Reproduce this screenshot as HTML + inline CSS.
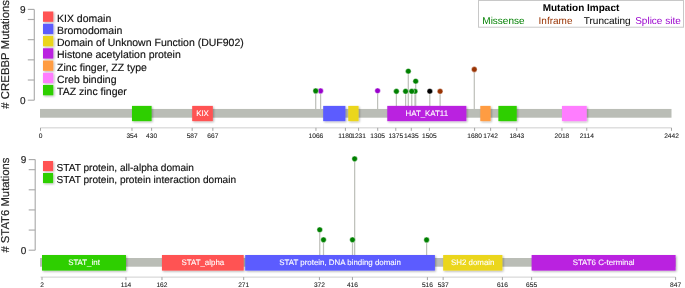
<!DOCTYPE html><html><head><meta charset="utf-8"><style>html,body{margin:0;padding:0;background:#fff;width:685px;height:288px;overflow:hidden}svg{display:block}</style></head><body>
<svg width="685" height="288" viewBox="0 0 685 288" text-rendering="geometricPrecision" font-family='"Liberation Sans", Arial, Helvetica, sans-serif'>
<defs><filter id="sh" x="-20%" y="-20%" width="150%" height="160%"><feGaussianBlur in="SourceAlpha" stdDeviation="0.9"/><feOffset dx="1" dy="1.2" result="b"/><feComponentTransfer><feFuncA type="linear" slope="0.3"/></feComponentTransfer><feMerge><feMergeNode/><feMergeNode in="SourceGraphic"/></feMerge></filter></defs>
<rect width="685" height="288" fill="#fff"/>
<line x1="34.3" y1="9.4" x2="34.3" y2="100.2" stroke="#ababab" stroke-width="1.15"/>
<line x1="27.80" y1="100.20" x2="34.3" y2="100.20" stroke="#ababab" stroke-width="1.15"/>
<line x1="27.80" y1="80.02" x2="34.3" y2="80.02" stroke="#ababab" stroke-width="1.15"/>
<line x1="27.80" y1="59.84" x2="34.3" y2="59.84" stroke="#ababab" stroke-width="1.15"/>
<line x1="27.80" y1="39.67" x2="34.3" y2="39.67" stroke="#ababab" stroke-width="1.15"/>
<line x1="27.80" y1="19.49" x2="34.3" y2="19.49" stroke="#ababab" stroke-width="1.15"/>
<line x1="27.80" y1="9.40" x2="34.3" y2="9.40" stroke="#ababab" stroke-width="1.15"/>
<text x="25.50" y="12.95" font-size="10" text-anchor="end" fill="#222" stroke="#222" stroke-width="0.15">9</text>
<text x="25.50" y="103.75" font-size="10" text-anchor="end" fill="#222" stroke="#222" stroke-width="0.15">0</text>
<text transform="translate(9,54.3) rotate(-90)" font-size="11.4" text-anchor="middle" fill="#222" stroke="#222" stroke-width="0.15"># CREBBP Mutations</text>
<rect x="43" y="11.50" width="10.3" height="10.3" fill="#ff5353" filter="url(#sh)"/>
<text x="57.0" y="21.70" font-size="10.5" fill="#111" stroke="#111" stroke-width="0.15">KIX domain</text>
<rect x="43" y="23.75" width="10.3" height="10.3" fill="#5b5bff" filter="url(#sh)"/>
<text x="57.0" y="33.95" font-size="10.5" fill="#111" stroke="#111" stroke-width="0.15">Bromodomain</text>
<rect x="43" y="36.00" width="10.3" height="10.3" fill="#ebd61d" filter="url(#sh)"/>
<text x="57.0" y="46.20" font-size="10.5" fill="#111" stroke="#111" stroke-width="0.15">Domain of Unknown Function (DUF902)</text>
<rect x="43" y="48.25" width="10.3" height="10.3" fill="#ba21e0" filter="url(#sh)"/>
<text x="57.0" y="58.45" font-size="10.5" fill="#111" stroke="#111" stroke-width="0.15">Histone acetylation protein</text>
<rect x="43" y="60.50" width="10.3" height="10.3" fill="#ff9c42" filter="url(#sh)"/>
<text x="57.0" y="70.70" font-size="10.5" fill="#111" stroke="#111" stroke-width="0.15">Zinc finger, ZZ type</text>
<rect x="43" y="72.75" width="10.3" height="10.3" fill="#ff7dff" filter="url(#sh)"/>
<text x="57.0" y="82.95" font-size="10.5" fill="#111" stroke="#111" stroke-width="0.15">Creb binding</text>
<rect x="43" y="85.00" width="10.3" height="10.3" fill="#2dcf00" filter="url(#sh)"/>
<text x="57.0" y="95.20" font-size="10.5" fill="#111" stroke="#111" stroke-width="0.15">TAZ zinc finger</text>
<line x1="315.70" y1="90.90" x2="315.70" y2="113" stroke="#bfc1bb" stroke-width="1.25"/>
<line x1="320.60" y1="90.90" x2="320.60" y2="113" stroke="#bfc1bb" stroke-width="1.25"/>
<line x1="377.60" y1="90.75" x2="377.60" y2="113" stroke="#bfc1bb" stroke-width="1.25"/>
<line x1="396.40" y1="91.35" x2="396.40" y2="113" stroke="#bfc1bb" stroke-width="1.25"/>
<line x1="405.60" y1="91.30" x2="405.60" y2="113" stroke="#bfc1bb" stroke-width="1.25"/>
<line x1="408.30" y1="71.20" x2="408.30" y2="113" stroke="#bfc1bb" stroke-width="1.25"/>
<line x1="411.75" y1="91.30" x2="411.75" y2="113" stroke="#bfc1bb" stroke-width="1.25"/>
<line x1="415.00" y1="91.30" x2="415.00" y2="113" stroke="#bfc1bb" stroke-width="1.25"/>
<line x1="415.70" y1="81.20" x2="415.70" y2="113" stroke="#bfc1bb" stroke-width="1.25"/>
<line x1="429.80" y1="91.25" x2="429.80" y2="113" stroke="#bfc1bb" stroke-width="1.25"/>
<line x1="440.10" y1="91.30" x2="440.10" y2="113" stroke="#bfc1bb" stroke-width="1.25"/>
<line x1="474.30" y1="69.40" x2="474.30" y2="113" stroke="#bfc1bb" stroke-width="1.25"/>
<rect x="40" y="108.95" width="631.5" height="8.75" fill="#babdb6"/>
<rect x="131.97" y="105.9" width="19.64" height="15.25" fill="#2dcf00" filter="url(#sh)"/>
<rect x="192.18" y="105.9" width="20.67" height="15.25" fill="#ff5353" filter="url(#sh)"/>
<text x="202.51" y="116.05" font-size="7.9" text-anchor="middle" fill="#fff" stroke="#fff" stroke-width="0.1">KIX</text>
<rect x="323.18" y="105.9" width="22.22" height="15.25" fill="#5b5bff" filter="url(#sh)"/>
<rect x="348.25" y="105.9" width="10.34" height="15.25" fill="#ebd61d" filter="url(#sh)"/>
<rect x="387.27" y="105.9" width="79.07" height="15.25" fill="#ba21e0" filter="url(#sh)"/>
<text x="426.80" y="116.05" font-size="7.9" text-anchor="middle" fill="#fff" stroke="#fff" stroke-width="0.1">HAT_KAT11</text>
<rect x="480.29" y="105.9" width="10.34" height="15.25" fill="#ff9c42" filter="url(#sh)"/>
<rect x="498.38" y="105.9" width="18.35" height="15.25" fill="#2dcf00" filter="url(#sh)"/>
<rect x="561.94" y="105.9" width="24.81" height="15.25" fill="#ff7dff" filter="url(#sh)"/>
<circle cx="474.30" cy="69.40" r="2.8" fill="#993404" stroke="#fff" stroke-opacity="0.75" stroke-width="0.6"/>
<circle cx="440.10" cy="91.30" r="2.8" fill="#993404" stroke="#fff" stroke-opacity="0.75" stroke-width="0.6"/>
<circle cx="429.80" cy="91.25" r="2.8" fill="#000000" stroke="#fff" stroke-opacity="0.75" stroke-width="0.6"/>
<circle cx="415.70" cy="81.20" r="2.8" fill="#008000" stroke="#fff" stroke-opacity="0.75" stroke-width="0.6"/>
<circle cx="415.00" cy="91.30" r="2.8" fill="#008000" stroke="#fff" stroke-opacity="0.75" stroke-width="0.6"/>
<circle cx="411.75" cy="91.30" r="2.8" fill="#008000" stroke="#fff" stroke-opacity="0.75" stroke-width="0.6"/>
<circle cx="408.30" cy="71.20" r="2.8" fill="#008000" stroke="#fff" stroke-opacity="0.75" stroke-width="0.6"/>
<circle cx="405.60" cy="91.30" r="2.8" fill="#008000" stroke="#fff" stroke-opacity="0.75" stroke-width="0.6"/>
<circle cx="396.40" cy="91.35" r="2.8" fill="#008000" stroke="#fff" stroke-opacity="0.75" stroke-width="0.6"/>
<circle cx="377.60" cy="90.75" r="2.8" fill="#9900cc" stroke="#fff" stroke-opacity="0.75" stroke-width="0.6"/>
<circle cx="320.60" cy="90.90" r="2.8" fill="#9900cc" stroke="#fff" stroke-opacity="0.75" stroke-width="0.6"/>
<circle cx="315.70" cy="90.90" r="2.8" fill="#008000" stroke="#fff" stroke-opacity="0.75" stroke-width="0.6"/>
<line x1="40.5" y1="127.85" x2="671.5" y2="127.85" stroke="#cfcfcf" stroke-width="1"/>
<line x1="40.50" y1="127.85" x2="40.50" y2="130.85" stroke="#999" stroke-width="0.9"/>
<text x="40.50" y="137.95" font-size="6.6" text-anchor="middle" fill="#222" stroke="#222" stroke-width="0.1">0</text>
<line x1="131.97" y1="127.85" x2="131.97" y2="130.85" stroke="#999" stroke-width="0.9"/>
<text x="131.97" y="137.95" font-size="6.6" text-anchor="middle" fill="#222" stroke="#222" stroke-width="0.1">354</text>
<line x1="151.61" y1="127.85" x2="151.61" y2="130.85" stroke="#999" stroke-width="0.9"/>
<text x="151.61" y="137.95" font-size="6.6" text-anchor="middle" fill="#222" stroke="#222" stroke-width="0.1">430</text>
<line x1="192.18" y1="127.85" x2="192.18" y2="130.85" stroke="#999" stroke-width="0.9"/>
<text x="192.18" y="137.95" font-size="6.6" text-anchor="middle" fill="#222" stroke="#222" stroke-width="0.1">587</text>
<line x1="212.85" y1="127.85" x2="212.85" y2="130.85" stroke="#999" stroke-width="0.9"/>
<text x="212.85" y="137.95" font-size="6.6" text-anchor="middle" fill="#222" stroke="#222" stroke-width="0.1">667</text>
<line x1="315.95" y1="127.85" x2="315.95" y2="130.85" stroke="#999" stroke-width="0.9"/>
<text x="315.95" y="137.95" font-size="6.6" text-anchor="middle" fill="#222" stroke="#222" stroke-width="0.1">1066</text>
<line x1="345.41" y1="127.85" x2="345.41" y2="130.85" stroke="#999" stroke-width="0.9"/>
<text x="345.41" y="137.95" font-size="6.6" text-anchor="middle" fill="#222" stroke="#222" stroke-width="0.1">1180</text>
<line x1="358.58" y1="127.85" x2="358.58" y2="130.85" stroke="#999" stroke-width="0.9"/>
<text x="358.58" y="137.95" font-size="6.6" text-anchor="middle" fill="#222" stroke="#222" stroke-width="0.1">1231</text>
<line x1="377.71" y1="127.85" x2="377.71" y2="130.85" stroke="#999" stroke-width="0.9"/>
<text x="377.71" y="137.95" font-size="6.6" text-anchor="middle" fill="#222" stroke="#222" stroke-width="0.1">1305</text>
<line x1="395.79" y1="127.85" x2="395.79" y2="130.85" stroke="#999" stroke-width="0.9"/>
<text x="395.79" y="137.95" font-size="6.6" text-anchor="middle" fill="#222" stroke="#222" stroke-width="0.1">1375</text>
<line x1="411.30" y1="127.85" x2="411.30" y2="130.85" stroke="#999" stroke-width="0.9"/>
<text x="411.30" y="137.95" font-size="6.6" text-anchor="middle" fill="#222" stroke="#222" stroke-width="0.1">1435</text>
<line x1="429.38" y1="127.85" x2="429.38" y2="130.85" stroke="#999" stroke-width="0.9"/>
<text x="429.38" y="137.95" font-size="6.6" text-anchor="middle" fill="#222" stroke="#222" stroke-width="0.1">1505</text>
<line x1="474.60" y1="127.85" x2="474.60" y2="130.85" stroke="#999" stroke-width="0.9"/>
<text x="474.60" y="137.95" font-size="6.6" text-anchor="middle" fill="#222" stroke="#222" stroke-width="0.1">1680</text>
<line x1="490.62" y1="127.85" x2="490.62" y2="130.85" stroke="#999" stroke-width="0.9"/>
<text x="490.62" y="137.95" font-size="6.6" text-anchor="middle" fill="#222" stroke="#222" stroke-width="0.1">1742</text>
<line x1="516.72" y1="127.85" x2="516.72" y2="130.85" stroke="#999" stroke-width="0.9"/>
<text x="516.72" y="137.95" font-size="6.6" text-anchor="middle" fill="#222" stroke="#222" stroke-width="0.1">1843</text>
<line x1="561.94" y1="127.85" x2="561.94" y2="130.85" stroke="#999" stroke-width="0.9"/>
<text x="561.94" y="137.95" font-size="6.6" text-anchor="middle" fill="#222" stroke="#222" stroke-width="0.1">2018</text>
<line x1="586.75" y1="127.85" x2="586.75" y2="130.85" stroke="#999" stroke-width="0.9"/>
<text x="586.75" y="137.95" font-size="6.6" text-anchor="middle" fill="#222" stroke="#222" stroke-width="0.1">2114</text>
<line x1="671.50" y1="127.85" x2="671.50" y2="130.85" stroke="#999" stroke-width="0.9"/>
<text x="671.50" y="137.95" font-size="6.6" text-anchor="middle" fill="#222" stroke="#222" stroke-width="0.1">2442</text>
<line x1="35.2" y1="159.6" x2="35.2" y2="250.2" stroke="#ababab" stroke-width="1.15"/>
<line x1="28.70" y1="250.20" x2="35.2" y2="250.20" stroke="#ababab" stroke-width="1.15"/>
<line x1="28.70" y1="230.07" x2="35.2" y2="230.07" stroke="#ababab" stroke-width="1.15"/>
<line x1="28.70" y1="209.93" x2="35.2" y2="209.93" stroke="#ababab" stroke-width="1.15"/>
<line x1="28.70" y1="189.80" x2="35.2" y2="189.80" stroke="#ababab" stroke-width="1.15"/>
<line x1="28.70" y1="169.67" x2="35.2" y2="169.67" stroke="#ababab" stroke-width="1.15"/>
<line x1="28.70" y1="159.60" x2="35.2" y2="159.60" stroke="#ababab" stroke-width="1.15"/>
<text x="26.40" y="163.15" font-size="10" text-anchor="end" fill="#222" stroke="#222" stroke-width="0.15">9</text>
<text x="26.40" y="253.75" font-size="10" text-anchor="end" fill="#222" stroke="#222" stroke-width="0.15">0</text>
<text transform="translate(9,205.1) rotate(-90)" font-size="11.3" text-anchor="middle" fill="#222" stroke="#222" stroke-width="0.15"># STAT6 Mutations</text>
<rect x="43" y="161.00" width="10.1" height="10.1" fill="#ff5353" filter="url(#sh)"/>
<text x="56.5" y="171.30" font-size="10.1" fill="#111" stroke="#111" stroke-width="0.15">STAT protein, all-alpha domain</text>
<rect x="43" y="173.00" width="10.1" height="10.1" fill="#2dcf00" filter="url(#sh)"/>
<text x="56.5" y="183.30" font-size="10.1" fill="#111" stroke="#111" stroke-width="0.15">STAT protein, protein interaction domain</text>
<line x1="319.75" y1="229.75" x2="319.75" y2="262" stroke="#bfc1bb" stroke-width="1.25"/>
<line x1="323.50" y1="239.80" x2="323.50" y2="262" stroke="#bfc1bb" stroke-width="1.25"/>
<line x1="352.50" y1="239.80" x2="352.50" y2="262" stroke="#bfc1bb" stroke-width="1.25"/>
<line x1="354.65" y1="158.85" x2="354.65" y2="262" stroke="#bfc1bb" stroke-width="1.25"/>
<line x1="426.60" y1="239.90" x2="426.60" y2="262" stroke="#bfc1bb" stroke-width="1.25"/>
<rect x="40" y="258.0" width="635.6" height="8.7" fill="#babdb6"/>
<rect x="42.00" y="255.0" width="83.98" height="15.6" fill="#2dcf00" filter="url(#sh)"/>
<text x="83.99" y="265.2" font-size="7.9" text-anchor="middle" fill="#fff" stroke="#fff" stroke-width="0.1">STAT_int</text>
<rect x="161.97" y="255.0" width="81.73" height="15.6" fill="#ff5353" filter="url(#sh)"/>
<text x="202.84" y="265.2" font-size="7.9" text-anchor="middle" fill="#fff" stroke="#fff" stroke-width="0.1">STAT_alpha</text>
<rect x="245.20" y="255.0" width="189.71" height="15.6" fill="#5b5bff" filter="url(#sh)"/>
<text x="340.05" y="265.2" font-size="7.9" text-anchor="middle" fill="#fff" stroke="#fff" stroke-width="0.1">STAT protein, DNA binding domain</text>
<rect x="443.15" y="255.0" width="59.24" height="15.6" fill="#ebd61d" filter="url(#sh)"/>
<text x="472.77" y="265.2" font-size="7.9" text-anchor="middle" fill="#fff" stroke="#fff" stroke-width="0.1">SH2 domain</text>
<rect x="531.63" y="255.0" width="143.97" height="15.6" fill="#ba21e0" filter="url(#sh)"/>
<text x="603.62" y="265.2" font-size="7.9" text-anchor="middle" fill="#fff" stroke="#fff" stroke-width="0.1">STAT6 C-terminal</text>
<circle cx="426.60" cy="239.90" r="2.8" fill="#008000" stroke="#fff" stroke-opacity="0.75" stroke-width="0.6"/>
<circle cx="354.65" cy="158.85" r="2.8" fill="#008000" stroke="#fff" stroke-opacity="0.75" stroke-width="0.6"/>
<circle cx="352.50" cy="239.80" r="2.8" fill="#008000" stroke="#fff" stroke-opacity="0.75" stroke-width="0.6"/>
<circle cx="323.50" cy="239.80" r="2.8" fill="#008000" stroke="#fff" stroke-opacity="0.75" stroke-width="0.6"/>
<circle cx="319.75" cy="229.75" r="2.8" fill="#008000" stroke="#fff" stroke-opacity="0.75" stroke-width="0.6"/>
<line x1="40.5" y1="277.1" x2="675.6" y2="277.1" stroke="#cfcfcf" stroke-width="1"/>
<line x1="42.00" y1="277.1" x2="42.00" y2="280.1" stroke="#999" stroke-width="0.9"/>
<text x="42.00" y="287.20" font-size="6.6" text-anchor="middle" fill="#222" stroke="#222" stroke-width="0.1">2</text>
<line x1="125.98" y1="277.1" x2="125.98" y2="280.1" stroke="#999" stroke-width="0.9"/>
<text x="125.98" y="287.20" font-size="6.6" text-anchor="middle" fill="#222" stroke="#222" stroke-width="0.1">114</text>
<line x1="161.97" y1="277.1" x2="161.97" y2="280.1" stroke="#999" stroke-width="0.9"/>
<text x="161.97" y="287.20" font-size="6.6" text-anchor="middle" fill="#222" stroke="#222" stroke-width="0.1">162</text>
<line x1="243.70" y1="277.1" x2="243.70" y2="280.1" stroke="#999" stroke-width="0.9"/>
<text x="243.70" y="287.20" font-size="6.6" text-anchor="middle" fill="#222" stroke="#222" stroke-width="0.1">271</text>
<line x1="319.43" y1="277.1" x2="319.43" y2="280.1" stroke="#999" stroke-width="0.9"/>
<text x="319.43" y="287.20" font-size="6.6" text-anchor="middle" fill="#222" stroke="#222" stroke-width="0.1">372</text>
<line x1="352.43" y1="277.1" x2="352.43" y2="280.1" stroke="#999" stroke-width="0.9"/>
<text x="352.43" y="287.20" font-size="6.6" text-anchor="middle" fill="#222" stroke="#222" stroke-width="0.1">416</text>
<line x1="427.41" y1="277.1" x2="427.41" y2="280.1" stroke="#999" stroke-width="0.9"/>
<text x="427.41" y="287.20" font-size="6.6" text-anchor="middle" fill="#222" stroke="#222" stroke-width="0.1">516</text>
<line x1="443.15" y1="277.1" x2="443.15" y2="280.1" stroke="#999" stroke-width="0.9"/>
<text x="443.15" y="287.20" font-size="6.6" text-anchor="middle" fill="#222" stroke="#222" stroke-width="0.1">537</text>
<line x1="502.39" y1="277.1" x2="502.39" y2="280.1" stroke="#999" stroke-width="0.9"/>
<text x="502.39" y="287.20" font-size="6.6" text-anchor="middle" fill="#222" stroke="#222" stroke-width="0.1">616</text>
<line x1="531.63" y1="277.1" x2="531.63" y2="280.1" stroke="#999" stroke-width="0.9"/>
<text x="531.63" y="287.20" font-size="6.6" text-anchor="middle" fill="#222" stroke="#222" stroke-width="0.1">655</text>
<line x1="675.60" y1="277.1" x2="675.60" y2="280.1" stroke="#999" stroke-width="0.9"/>
<text x="675.60" y="287.20" font-size="6.6" text-anchor="middle" fill="#222" stroke="#222" stroke-width="0.1">847</text>
<rect x="478.5" y="0.5" width="205" height="26.7" fill="#fff" stroke="#c8c8c8" stroke-width="1"/>
<text x="581" y="10.6" font-size="10" font-weight="bold" text-anchor="middle" fill="#000">Mutation Impact</text>
<text x="482.3" y="24.2" font-size="10" fill="#008000">Missense</text>
<text x="538.6" y="24.2" font-size="10" fill="#993404">Inframe</text>
<text x="583.8" y="24.2" font-size="10" fill="#000000">Truncating</text>
<text x="635.2" y="24.2" font-size="10" fill="#9900cc">Splice site</text>
</svg></body></html>
